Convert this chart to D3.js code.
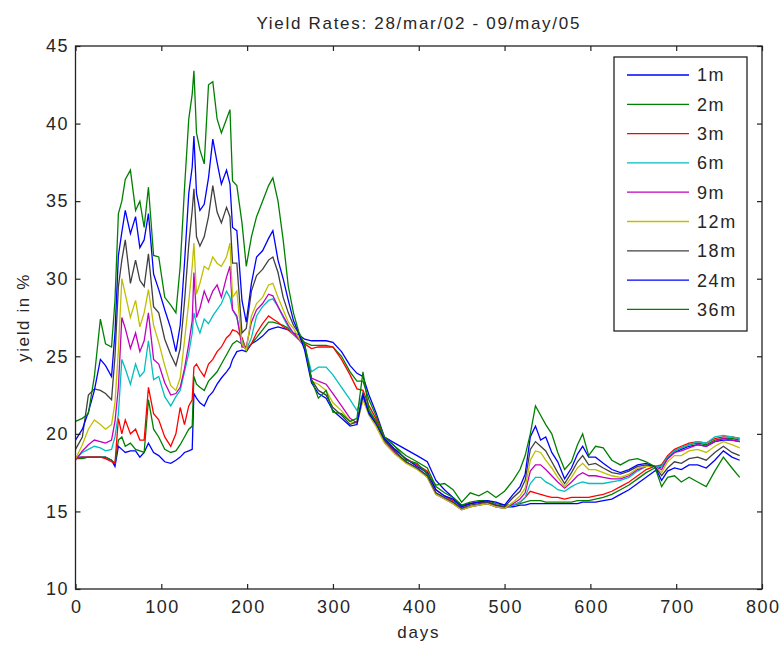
<!DOCTYPE html>
<html>
<head>
<meta charset="utf-8">
<script src="https://cdn.jsdelivr.net/npm/d3@7"></script>
<style>
  body { margin: 0; background: #fff; }
  text { font-family: "Liberation Sans", Arial, sans-serif; fill: #262626; }
</style>
</head>
<body>
<div id="chart"></div>
<script>
// sampled days (x values shared by all series)
const days = [0, 8, 15, 22, 29, 35, 42, 46, 50, 54, 58, 64, 70, 75, 80, 85, 91, 97, 104, 111,
  117, 122, 127, 132, 136, 138, 141, 145, 150, 155, 160, 165, 170, 176, 180, 183, 188, 194, 199, 205,
  211, 218, 225, 230, 236, 242, 248, 254, 260, 267, 275, 283, 292, 300, 310, 320, 328, 335, 342, 350,
  360, 372, 385, 398, 410, 420, 430, 440, 450, 460, 470, 480, 490, 500, 510, 518, 524, 530, 536, 542,
  548, 555, 562, 570, 578, 585, 591, 598, 606, 615, 625, 635, 645, 655, 665, 675, 683, 690, 698, 706,
  715, 725, 735, 745, 755, 765, 774];

const y1m = [18.5, 18.5, 18.5, 18.5, 18.5, 18.5, 18.3, 17.9, 19.2, 19.0, 18.8, 18.9, 18.9, 18.5, 18.8, 19.4, 18.8, 18.6, 18.2, 18.1,
  18.3, 18.5, 18.8, 18.9, 19.0, 22.6, 22.3, 22.0, 21.8, 22.4, 22.7, 23.2, 23.6, 24.0, 24.3, 24.8, 25.3, 25.4, 25.3, 25.8,
  26.0, 26.3, 26.7, 26.8, 26.9, 26.8, 26.7, 26.5, 26.4, 26.1, 26.0, 26.0, 26.0, 25.9, 25.3, 24.4, 23.9, 23.7, 22.5, 21.4,
  19.8, 19.4, 19.0, 18.6, 18.2, 17.0, 16.4, 15.9, 15.4, 15.5, 15.6, 15.6, 15.4, 15.3, 15.3, 15.4, 15.4, 15.5, 15.5, 15.5,
  15.5, 15.5, 15.5, 15.5, 15.5, 15.5, 15.6, 15.6, 15.6, 15.7, 15.8, 16.1, 16.4, 16.8, 17.2, 17.6, 17.9, 18.4, 18.8, 19.0,
  19.2, 19.3, 19.2, 19.5, 19.6, 19.6, 19.5];

const y2m = [18.4, 18.4, 18.5, 18.5, 18.5, 18.5, 18.3, 18.1, 19.6, 19.8, 19.2, 19.4, 19.0, 18.9, 18.8, 22.2, 20.3, 19.8, 19.0, 18.8,
  18.9, 19.3, 19.8, 20.3, 20.5, 23.7, 23.2, 23.0, 22.8, 23.4, 23.7, 24.0, 24.5, 25.1, 25.5, 25.8, 26.0, 25.8, 25.4, 25.8,
  26.2, 26.7, 27.2, 27.2, 27.1, 27.0, 26.8, 26.5, 26.2, 25.9, 25.7, 25.7, 25.7, 25.6, 25.0, 24.0, 23.4, 23.4, 22.2, 21.2,
  19.8, 19.2, 18.6, 18.2, 17.8, 16.6, 16.2, 15.9, 15.4, 15.6, 15.7, 15.7, 15.5, 15.4, 15.4, 15.5, 15.6, 15.7, 15.7, 15.7,
  15.6, 15.6, 15.6, 15.6, 15.6, 15.7, 15.7, 15.7, 15.8, 15.9, 16.1, 16.4, 16.7, 17.1, 17.5, 17.8, 18.0, 18.5, 18.9, 19.1,
  19.3, 19.4, 19.3, 19.6, 19.7, 19.7, 19.6];

const y3m = [18.4, 18.5, 18.5, 18.5, 18.5, 18.4, 18.2, 18.1, 21.0, 20.0, 20.9, 20.0, 20.3, 19.6, 19.6, 23.0, 21.3, 20.9, 19.8, 19.2,
  20.0, 21.7, 20.6, 21.8, 22.2, 24.3, 24.5, 24.1, 23.7, 24.5, 24.8, 25.3, 25.6, 26.2, 26.4, 26.7, 26.6, 26.2, 25.4, 25.8,
  26.5, 27.1, 27.6, 27.4, 27.2, 26.9, 26.7, 26.4, 26.1, 25.8, 25.5, 25.6, 25.6, 25.6, 24.8, 23.8, 22.9, 22.8, 21.8, 21.0,
  19.7, 19.0, 18.4, 18.0, 17.6, 16.4, 16.0, 15.7, 15.3, 15.5, 15.6, 15.6, 15.4, 15.3, 15.4, 15.6, 15.9, 16.3, 16.2, 16.1,
  16.0, 15.9, 15.9, 15.8, 15.9, 15.9, 15.9, 15.9, 16.0, 16.1, 16.3, 16.6, 16.9, 17.3, 17.7, 17.9, 18.0, 18.6, 19.0, 19.2,
  19.4, 19.5, 19.4, 19.7, 19.8, 19.8, 19.7];

const y6m = [18.4, 18.8, 19.0, 19.2, 19.1, 18.9, 19.0, 19.8, 21.3, 24.8, 24.2, 23.2, 24.5, 23.7, 24.0, 26.0, 23.5, 23.7, 22.4, 21.8,
  22.4, 22.8, 24.0, 25.2, 26.5, 27.8, 27.1, 26.5, 27.4, 27.1, 27.6, 28.0, 28.4, 29.2, 28.8, 28.0, 27.5, 26.0, 25.4, 26.2,
  27.6, 28.2, 28.6, 28.7, 28.2, 27.5, 26.9, 26.4, 26.1, 25.7, 24.0, 24.3, 24.3, 23.8, 23.0, 22.2, 21.5, 22.6, 21.6, 20.8,
  19.6, 18.8, 18.2, 17.8, 17.3, 16.2, 15.9, 15.6, 15.2, 15.3, 15.4, 15.5, 15.3, 15.2, 15.4, 15.6, 15.9, 16.8, 17.2, 17.2,
  16.9, 16.7, 16.4, 16.3, 16.6, 16.8, 16.9, 16.8, 16.8, 16.8, 16.9, 17.0, 17.2, 17.6, 17.9, 17.9, 17.9, 18.5, 18.9, 19.1,
  19.3, 19.5, 19.4, 19.8, 19.9, 19.8, 19.7];

const y9m = [18.3, 18.9, 19.3, 19.6, 19.5, 19.4, 19.6, 20.8, 23.0, 27.5, 26.8, 25.5, 26.5, 25.3, 26.0, 27.8, 24.8, 24.5, 23.3, 22.5,
  22.6, 23.0, 24.2, 25.8, 27.3, 30.4, 27.5, 28.1, 29.2, 28.5, 29.2, 29.6, 28.8, 30.1, 30.8, 28.0, 27.6, 25.6, 25.6, 27.2,
  28.0, 28.4, 29.0, 28.9, 28.2, 27.6, 27.0, 26.5, 26.1, 25.6, 23.6, 23.4, 23.2, 22.6, 21.8, 21.0, 20.7, 22.3, 21.3, 20.6,
  19.5, 18.8, 18.2, 17.8, 17.2, 16.1, 15.8, 15.5, 15.1, 15.3, 15.4, 15.5, 15.3, 15.2, 15.5, 15.8, 16.2, 17.6, 18.0, 18.0,
  17.7, 17.3, 16.9, 16.5, 16.9, 17.3, 17.5, 17.3, 17.3, 17.2, 17.1, 17.1, 17.3, 17.7, 17.9, 17.9, 17.7, 18.4, 18.8, 18.9,
  19.1, 19.3, 19.2, 19.5, 19.7, 19.6, 19.5];

const y12m = [18.4, 19.3, 20.3, 20.9, 20.6, 20.3, 20.6, 22.0, 25.4, 30.0, 29.0, 27.5, 28.6, 26.9, 27.8, 29.3, 27.0, 25.9, 24.4, 23.1,
  22.8, 23.6, 26.0, 28.5, 30.8, 32.3, 29.0, 29.7, 30.8, 30.6, 31.4, 31.0, 30.8, 31.4, 32.3, 28.8, 29.2, 25.8, 25.4, 27.6,
  28.4, 28.8, 29.6, 29.7, 28.8, 28.0, 27.2, 26.8, 26.2, 25.6, 23.4, 23.2, 22.8, 22.0, 21.5, 20.8, 20.6, 22.2, 21.2, 20.5,
  19.4, 18.7, 18.1, 17.7, 17.2, 16.1, 15.8, 15.5, 15.1, 15.3, 15.4, 15.5, 15.3, 15.2, 15.6, 16.0, 16.5, 18.3, 18.9, 18.8,
  18.3, 17.8, 17.2, 16.6, 17.2, 17.8, 18.1, 17.7, 17.7, 17.5, 17.3, 17.2, 17.4, 17.8, 17.9, 17.9, 17.5, 18.2, 18.6, 18.6,
  18.9, 19.0, 18.8, 19.2, 19.5, 19.3, 19.1];

const y18m = [19.0, 19.8, 22.5, 22.9, 22.8, 22.6, 22.2, 25.0, 29.5, 31.2, 32.5, 29.7, 31.2, 29.9, 29.5, 31.6, 28.2, 27.8, 26.1, 25.1,
  24.4, 25.5, 28.5, 32.2, 34.4, 35.8, 32.7, 32.1, 32.7, 34.0, 36.0, 34.3, 33.6, 34.6, 34.0, 31.0, 31.0, 26.5, 26.8, 29.2,
  30.2, 30.6, 31.2, 31.4, 30.4, 28.8, 27.8, 27.0, 26.5, 25.7, 23.5, 22.8, 22.5, 21.7, 21.2, 20.6, 20.8, 22.6, 21.4, 20.8,
  19.6, 18.9, 18.2, 17.8, 17.3, 16.2, 15.9, 15.6, 15.2, 15.4, 15.5, 15.6, 15.4, 15.3, 15.9, 16.3, 17.0, 19.0, 19.5, 19.2,
  18.9, 18.2, 17.5, 16.8, 17.5, 18.2, 18.6, 18.0, 18.1, 17.8, 17.5, 17.4, 17.6, 17.9, 18.0, 17.9, 17.3, 17.8, 18.2, 18.1,
  18.4, 18.5, 18.3, 18.8, 19.2, 18.8, 18.6];

const y24m = [19.6, 20.3, 21.4, 22.8, 24.8, 24.4, 23.7, 26.5, 31.5, 33.0, 34.4, 32.9, 34.0, 32.0, 32.5, 34.2, 30.3, 29.3, 28.0, 26.8,
  25.3, 27.0, 31.0, 35.5, 37.2, 39.2, 35.5, 34.4, 34.8, 36.5, 39.0, 37.5, 36.1, 37.0, 36.1, 33.3, 33.1, 28.6, 27.2, 29.7,
  31.4, 31.8, 32.6, 33.1, 31.2, 30.0, 28.6, 27.3, 26.5, 25.4, 23.3, 22.6, 22.3, 21.5, 21.0, 20.5, 20.6, 22.5, 21.3, 20.7,
  19.7, 19.0, 18.4, 17.9, 17.5, 16.4, 16.0, 15.8, 15.3, 15.5, 15.6, 15.7, 15.6, 15.4, 16.1, 16.6, 17.4, 19.8, 20.5, 19.6,
  19.8, 18.8, 18.2, 17.1, 17.8, 18.7, 19.2, 18.5, 18.5, 18.1, 17.7, 17.5, 17.7, 18.0, 18.1, 17.9, 17.0, 17.6, 17.8, 17.7,
  18.0, 18.0, 17.8, 18.3, 18.9, 18.5, 18.3];

const y36m = [20.8, 21.0, 21.3, 23.7, 27.4, 25.8, 25.6, 28.6, 34.2, 35.0, 36.4, 37.0, 34.4, 35.0, 33.3, 35.9, 31.5, 31.4, 28.8, 28.3,
  27.8, 30.8, 35.8, 40.3, 41.9, 43.4, 39.4, 38.3, 37.4, 42.5, 42.7, 40.3, 39.4, 40.3, 40.9, 36.3, 36.0, 33.6, 30.8, 32.7,
  34.0, 35.0, 36.0, 36.5, 35.0, 32.5, 29.5, 27.8, 26.6, 25.8, 23.5, 22.3, 22.8, 21.4, 21.3, 20.8, 21.0, 24.0, 21.5, 20.8,
  19.8, 19.2, 18.3, 18.1, 17.4, 16.7, 16.8, 16.4, 15.6, 16.2, 16.0, 16.3, 15.9, 16.3, 17.0, 17.7, 18.6, 20.0, 21.8, 21.2,
  20.6, 20.0, 18.8, 17.7, 18.2, 19.3, 20.0, 18.6, 19.2, 19.1, 18.3, 18.0, 18.3, 18.4, 18.2, 17.9, 16.6, 17.2, 17.3, 16.9,
  17.2, 16.9, 16.6, 17.6, 18.5, 17.8, 17.2];

const seriesNames = ['1m', '2m', '3m', '6m', '9m', '12m', '18m', '24m', '36m'];
const seriesValues = [y1m, y2m, y3m, y6m, y9m, y12m, y18m, y24m, y36m];
const seriesColors = ['#0000ff', '#008000', '#ff0000', '#00bfbf', '#bf00bf', '#bfbf00', '#404040', '#0000ff', '#008000'];

const xTicks = [0, 100, 200, 300, 400, 500, 600, 700, 800];
const yTicks = [10, 15, 20, 25, 30, 35, 40, 45];

// chart area
const W = 781, H = 646;
const margin = {top: 46, right: 19, bottom: 57, left: 75.5};
const width = W - margin.left - margin.right,
  height = H - margin.top - margin.bottom;

const svg = d3.select('#chart').append('svg')
  .attr('width', W)
  .attr('height', H);

const g = svg.append('g')
  .attr('transform', 'translate(' + margin.left + ',' + margin.top + ')');

const x = d3.scaleLinear().domain([0, 800]).range([0, width]);
const y = d3.scaleLinear().domain([10, 45]).range([height, 0]);

// lines
const line = d3.line()
  .x((d, i) => x(days[i]))
  .y(d => y(d));

seriesValues.forEach((vals, k) => {
  g.append('path')
    .attr('d', line(vals))
    .attr('fill', 'none')
    .attr('stroke', seriesColors[k])
    .attr('stroke-width', 1.3);
});

// axes (matlab style: ticks inside, on all four sides)
const xAxis = g.append('g')
  .attr('class', 'axis')
  .attr('transform', 'translate(0,' + height + ')')
  .call(d3.axisBottom(x).tickValues(xTicks).tickSize(-5).tickPadding(11));
const yAxis = g.append('g')
  .attr('class', 'axis')
  .call(d3.axisLeft(y).tickValues(yTicks).tickSize(-5).tickPadding(8));
g.append('g')
  .call(d3.axisTop(x).tickValues(xTicks).tickSize(-5).tickFormat(''));
g.append('g')
  .attr('transform', 'translate(' + width + ',0)')
  .call(d3.axisRight(y).tickValues(yTicks).tickSize(-5).tickFormat(''));

g.selectAll('.domain').remove();
g.selectAll('.tick line').attr('stroke', '#222').attr('stroke-width', 1.2);
g.selectAll('.axis text')
  .style('font-size', '18px')
  .style('letter-spacing', '1.5px')
  .style('font-family', '"Liberation Sans", Arial, sans-serif')
  .attr('fill', '#262626');
// letter spacing adds a trailing gap; nudge labels back
xAxis.selectAll('text').attr('dx', '0.75px');
yAxis.selectAll('text').attr('dx', '1.5px');

g.append('rect')
  .attr('width', width)
  .attr('height', height)
  .attr('fill', 'none')
  .attr('stroke', '#222')
  .attr('stroke-width', 1.3);

// title and axis labels
svg.append('text')
  .attr('x', margin.left + width / 2)
  .attr('y', 29)
  .attr('text-anchor', 'middle')
  .style('font-size', '17px')
  .style('letter-spacing', '1.7px')
  .text('Yield Rates: 28/mar/02 - 09/may/05');

svg.append('text')
  .attr('x', margin.left + width / 2)
  .attr('y', 638)
  .attr('text-anchor', 'middle')
  .style('font-size', '17px')
  .style('letter-spacing', '1.8px')
  .text('days');

svg.append('text')
  .attr('transform', 'translate(29,' + (margin.top + height / 2) + ') rotate(-90)')
  .attr('text-anchor', 'middle')
  .style('font-size', '17px')
  .style('letter-spacing', '1.6px')
  .text('yield in %');

// legend
const legend = svg.append('g').attr('transform', 'translate(614,57)');
legend.append('rect')
  .attr('width', 133)
  .attr('height', 274)
  .attr('fill', '#fff')
  .attr('stroke', '#222')
  .attr('stroke-width', 1.3);

seriesNames.forEach((name, k) => {
  const ly = 18 + k * 29.3;
  legend.append('line')
    .attr('x1', 13).attr('x2', 75)
    .attr('y1', ly).attr('y2', ly)
    .attr('stroke', seriesColors[k])
    .attr('stroke-width', 1.3);
  legend.append('text')
    .attr('x', 83)
    .attr('y', ly)
    .attr('dy', '0.36em')
    .style('font-size', '18px')
    .style('letter-spacing', '1.6px')
    .text(name);
});
</script>
</body>
</html>
